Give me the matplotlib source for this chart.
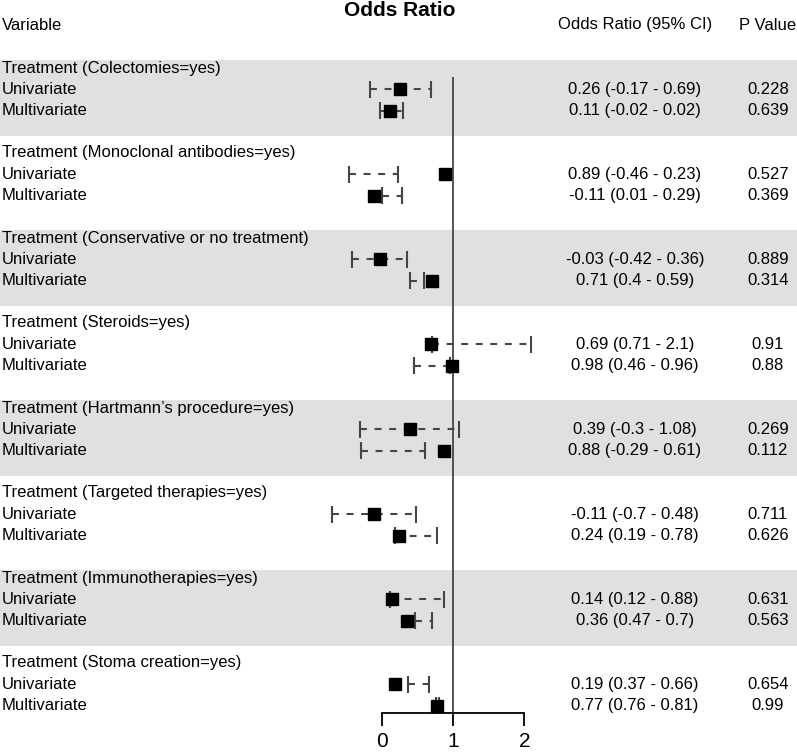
import matplotlib
matplotlib.use("Agg")
import matplotlib.pyplot as plt
import matplotlib.transforms as mtransforms

plt.rcParams['font.family'] = ['Liberation Sans', 'DejaVu Sans']
plt.rcParams['lines.scale_dashes'] = False

groups = ["Treatment (Colectomies=yes)",
          "Treatment (Monoclonal antibodies=yes)",
          "Treatment (Conservative or no treatment)",
          "Treatment (Steroids=yes)",
          "Treatment (Hartmann\u2019s procedure=yes)",
          "Treatment (Targeted therapies=yes)",
          "Treatment (Immunotherapies=yes)",
          "Treatment (Stoma creation=yes)"]

uni_or = [0.26, 0.89, -0.03, 0.69, 0.39, -0.11, 0.14, 0.19]
uni_lo = [-0.17, -0.46, -0.42, 0.71, -0.30, -0.70, 0.12, 0.37]
uni_hi = [0.69, 0.23, 0.36, 2.10, 1.08, 0.48, 0.88, 0.66]
multi_or = [0.11, -0.11, 0.71, 0.98, 0.88, 0.24, 0.36, 0.77]
multi_lo = [-0.02, 0.01, 0.40, 0.46, -0.29, 0.19, 0.47, 0.76]
multi_hi = [0.30, 0.29, 0.59, 0.96, 0.61, 0.78, 0.70, 0.81]

uni_ci_text = ["0.26 (-0.17 - 0.69)", "0.89 (-0.46 - 0.23)", "-0.03 (-0.42 - 0.36)",
               "0.69 (0.71 - 2.1)", "0.39 (-0.3 - 1.08)", "-0.11 (-0.7 - 0.48)",
               "0.14 (0.12 - 0.88)", "0.19 (0.37 - 0.66)"]
multi_ci_text = ["0.11 (-0.02 - 0.02)", "-0.11 (0.01 - 0.29)", "0.71 (0.4 - 0.59)",
                 "0.98 (0.46 - 0.96)", "0.88 (-0.29 - 0.61)", "0.24 (0.19 - 0.78)",
                 "0.36 (0.47 - 0.7)", "0.77 (0.76 - 0.81)"]
uni_p = ["0.228", "0.527", "0.889", "0.91", "0.269", "0.711", "0.631", "0.654"]
multi_p = ["0.639", "0.369", "0.314", "0.88", "0.112", "0.626", "0.563", "0.99"]

W, H = 797, 753
fig = plt.figure(figsize=(W / 100, H / 100), dpi=100)

# pixel layout
x0_px, unit_px = 381.7, 71.3
row0_px, row_px = 68.0, 21.25

ax = fig.add_axes([0, 0, 1, 1])
ax.set_xlim(-x0_px / unit_px, (W - x0_px) / unit_px)
ax.set_ylim((H - row0_px) / row_px, -row0_px / row_px)
ax.axis('off')

def px2row(p):
    return (p - row0_px) / row_px

trans = mtransforms.blended_transform_factory(ax.transAxes, ax.transData)
fs = 12
line_col = '#454545'

for g, name in enumerate(groups):
    r = 4 * g
    if g % 2 == 0:
        ax.axhspan(r + px2row(60), r + px2row(136), color='#e0e0e0', zorder=0, lw=0)
    ax.text(2 / W, r, name, transform=trans, ha='left', va='center', fontsize=fs)
    rows = [(r + 1, "Univariate", uni_or[g], uni_lo[g], uni_hi[g], uni_ci_text[g], uni_p[g]),
            (r + 2, "Multivariate", multi_or[g], multi_lo[g], multi_hi[g], multi_ci_text[g], multi_p[g])]
    for (rr, lab, est, lo, hi, cit, pv) in rows:
        ax.text(2 / W, rr, lab, transform=trans, ha='left', va='center', fontsize=fs)
        ax.text(635 / W, rr, cit, transform=trans, ha='center', va='center', fontsize=fs)
        ax.text(768 / W, rr, pv, transform=trans, ha='center', va='center', fontsize=fs)
        ax.plot([lo, hi], [rr, rr], color=line_col, lw=1.5, dashes=(5, 5.5), zorder=2)
        ax.vlines([lo, hi], rr - 0.4, rr + 0.4, color=line_col, lw=1.5, zorder=2)
        ax.plot([est], [rr], marker='s', ms=8.4, color='black', ls='none', zorder=3)

# reference line at OR = 1
ax.vlines(1, px2row(77), px2row(713), color=line_col, lw=1.3, zorder=2)

# headers
hy = px2row(25)
ax.text(2 / W, hy, "Variable", transform=trans, ha='left', va='center', fontsize=fs)
ax.text(635 / W, hy, "Odds Ratio (95% CI)", transform=trans, ha='center', va='center', fontsize=fs)
ax.text(768 / W, hy, "P Value", transform=trans, ha='center', va='center', fontsize=fs)
ax.text(400 / W, px2row(11), "Odds Ratio", transform=trans, ha='center', va='center',
        fontsize=15, fontweight='bold')

# x axis
ax_x = fig.add_axes([x0_px / W, 1 - 713 / H, 2 * unit_px / W, 0.001])
ax_x.set_xlim(0, 2)
ax_x.set_xticks([0, 1, 2])
ax_x.set_xticklabels(['0', '1', '2'], fontsize=15)
ax_x.set_yticks([])
for s in ['top', 'left', 'right']:
    ax_x.spines[s].set_visible(False)
ax_x.spines['bottom'].set_linewidth(1.3)
ax_x.tick_params(axis='x', direction='out', length=9.4, width=1.3, pad=4.5)
ax_x.patch.set_visible(False)

fig.savefig("out.png", dpi=100)
